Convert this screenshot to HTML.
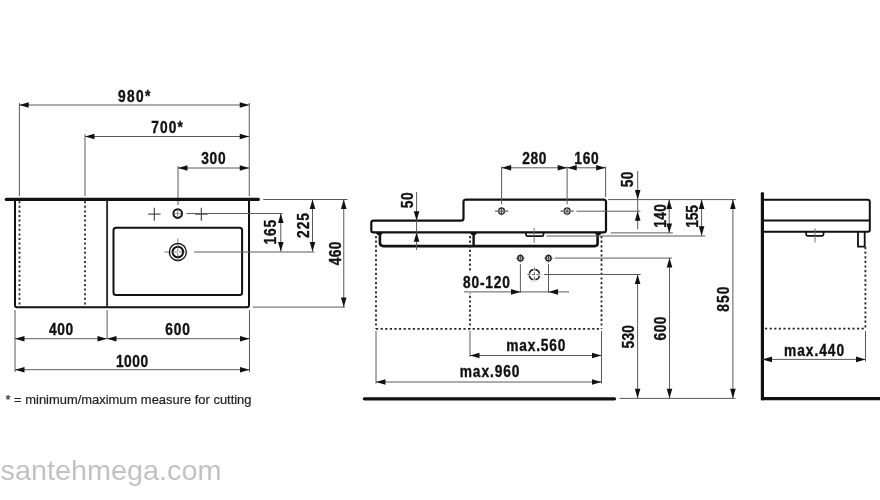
<!DOCTYPE html>
<html><head><meta charset="utf-8"><style>
html,body{margin:0;padding:0;background:#fff;}
svg{display:block;font-family:"Liberation Sans", sans-serif;will-change:transform;}
</style></head><body>
<svg width="880" height="500" viewBox="0 0 880 500">
<rect width="880" height="500" fill="#fff"/>
<line x1="19.4" y1="103" x2="19.4" y2="196" stroke="#5a5a5a" stroke-width="1" />
<line x1="85" y1="134" x2="85" y2="196" stroke="#5a5a5a" stroke-width="1" />
<line x1="178" y1="166" x2="178" y2="205" stroke="#5a5a5a" stroke-width="1" />
<line x1="249.25" y1="103" x2="249.25" y2="196" stroke="#5a5a5a" stroke-width="1" />
<line x1="19.25" y1="105" x2="249.25" y2="105" stroke="#5a5a5a" stroke-width="1" />
<polygon points="19.25,105.00 28.75,102.20 28.75,107.80" fill="#111"/>
<polygon points="249.25,105.00 239.75,102.20 239.75,107.80" fill="#111"/>
<line x1="85" y1="136.5" x2="249.25" y2="136.5" stroke="#5a5a5a" stroke-width="1" />
<polygon points="85.00,136.50 94.50,133.70 94.50,139.30" fill="#111"/>
<polygon points="249.25,136.50 239.75,133.70 239.75,139.30" fill="#111"/>
<line x1="178" y1="168" x2="249.25" y2="168" stroke="#5a5a5a" stroke-width="1" />
<polygon points="178.00,168.00 187.50,165.20 187.50,170.80" fill="#111"/>
<polygon points="249.25,168.00 239.75,165.20 239.75,170.80" fill="#111"/>
<text transform="translate(134.15,101.50) scale(0.86,1)" x="0" y="0" text-anchor="middle" font-size="16" font-weight="bold" fill="#111" stroke="#111" stroke-width="0.35" textLength="37.56" lengthAdjust="spacing">980*</text>
<text transform="translate(167.10,132.60) scale(0.86,1)" x="0" y="0" text-anchor="middle" font-size="16" font-weight="bold" fill="#111" stroke="#111" stroke-width="0.35" textLength="36.74" lengthAdjust="spacing">700*</text>
<text transform="translate(213.40,164.20) scale(0.86,1)" x="0" y="0" text-anchor="middle" font-size="16" font-weight="bold" fill="#111" stroke="#111" stroke-width="0.35" textLength="28.37" lengthAdjust="spacing">300</text>
<line x1="6.3" y1="199.4" x2="258.3" y2="199.4" stroke="#111" stroke-width="3.3" stroke-linecap="round"/>
<path d="M15,200 L15,305.3 Q15,307.3 17,307.3 L247,307.3 Q249,307.3 249,305.3 L249,200" stroke="#111" stroke-width="2" fill="none" />
<line x1="107.1" y1="200" x2="107.1" y2="307.3" stroke="#2a2a2a" stroke-width="1.9" />
<line x1="19.5" y1="201.2" x2="19.5" y2="305" stroke="#262626" stroke-width="1.8" stroke-dasharray="2 2.6"/>
<line x1="85" y1="201.2" x2="85" y2="305" stroke="#262626" stroke-width="1.8" stroke-dasharray="2 2.6"/>
<rect x="113.5" y="227.8" width="128.6" height="67.1" rx="2.5" stroke="#111" stroke-width="2" fill="none"/>
<circle cx="177.7" cy="213.6" r="4.3" stroke="#111" stroke-width="2" fill="none" />
<line x1="173.5" y1="213.6" x2="182" y2="213.6" stroke="#777" stroke-width="0.8" />
<line x1="177.7" y1="209.4" x2="177.7" y2="217.8" stroke="#777" stroke-width="0.8" />
<line x1="148.10000000000002" y1="214.1" x2="160.5" y2="214.1" stroke="#3a3a3a" stroke-width="1.1" />
<line x1="154.3" y1="207.8" x2="154.3" y2="220.7" stroke="#3a3a3a" stroke-width="1.1" />
<line x1="195.10000000000002" y1="214.1" x2="207.5" y2="214.1" stroke="#3a3a3a" stroke-width="1.1" />
<line x1="201.3" y1="207.8" x2="201.3" y2="220.7" stroke="#3a3a3a" stroke-width="1.1" />
<circle cx="177.85" cy="252" r="8.5" stroke="#111" stroke-width="1.3" fill="none" />
<circle cx="177.85" cy="252" r="5.3" stroke="#111" stroke-width="2" fill="none" />
<line x1="164.5" y1="252" x2="191.2" y2="252" stroke="#777" stroke-width="1" stroke-dasharray="4 1.5 3 1.5 3 1.5 3 1.5 4"/>
<line x1="177.85" y1="238.6" x2="177.85" y2="265.4" stroke="#777" stroke-width="1" stroke-dasharray="4 1.5 3 1.5 3 1.5 3 1.5 4"/>
<line x1="186.5" y1="213.5" x2="282.5" y2="213.5" stroke="#5a5a5a" stroke-width="1" />
<line x1="194" y1="252" x2="314.5" y2="252" stroke="#5a5a5a" stroke-width="1" />
<line x1="263.2" y1="199.5" x2="347.5" y2="199.5" stroke="#5a5a5a" stroke-width="1" />
<line x1="252.8" y1="307.1" x2="345" y2="307.1" stroke="#5a5a5a" stroke-width="1" />
<line x1="280.8" y1="213.5" x2="280.8" y2="251.5" stroke="#5a5a5a" stroke-width="1" />
<polygon points="280.80,213.50 278.00,223.00 283.60,223.00" fill="#111"/>
<polygon points="280.80,251.50 278.00,242.00 283.60,242.00" fill="#111"/>
<line x1="312.5" y1="199.5" x2="312.5" y2="251.5" stroke="#5a5a5a" stroke-width="1" />
<polygon points="312.50,199.50 309.70,209.00 315.30,209.00" fill="#111"/>
<polygon points="312.50,251.50 309.70,242.00 315.30,242.00" fill="#111"/>
<line x1="343.75" y1="199.6" x2="343.75" y2="307.1" stroke="#5a5a5a" stroke-width="1" />
<polygon points="343.75,199.60 340.95,209.10 346.55,209.10" fill="#111"/>
<polygon points="343.75,307.10 340.95,297.60 346.55,297.60" fill="#111"/>
<text transform="translate(275.60,232.20) rotate(-90) scale(0.86,1)" x="0" y="0" text-anchor="middle" font-size="16" font-weight="bold" fill="#111" stroke="#111" stroke-width="0.35" textLength="28.60" lengthAdjust="spacing">165</text>
<text transform="translate(308.70,225.50) rotate(-90) scale(0.86,1)" x="0" y="0" text-anchor="middle" font-size="16" font-weight="bold" fill="#111" stroke="#111" stroke-width="0.35" textLength="29.07" lengthAdjust="spacing">225</text>
<text transform="translate(340.60,253.40) rotate(-90) scale(0.86,1)" x="0" y="0" text-anchor="middle" font-size="16" font-weight="bold" fill="#111" stroke="#111" stroke-width="0.35" textLength="27.67" lengthAdjust="spacing">460</text>
<line x1="15" y1="310" x2="15" y2="372" stroke="#5a5a5a" stroke-width="1" />
<line x1="107.1" y1="310" x2="107.1" y2="339" stroke="#5a5a5a" stroke-width="1" />
<line x1="249.5" y1="310" x2="249.5" y2="372" stroke="#5a5a5a" stroke-width="1" />
<line x1="15" y1="338.7" x2="107" y2="338.7" stroke="#5a5a5a" stroke-width="1" />
<polygon points="15.00,338.70 24.50,335.90 24.50,341.50" fill="#111"/>
<polygon points="107.00,338.70 97.50,335.90 97.50,341.50" fill="#111"/>
<line x1="107" y1="338.7" x2="249.5" y2="338.7" stroke="#5a5a5a" stroke-width="1" />
<polygon points="107.00,338.70 116.50,335.90 116.50,341.50" fill="#111"/>
<polygon points="249.50,338.70 240.00,335.90 240.00,341.50" fill="#111"/>
<line x1="15" y1="369.7" x2="249.5" y2="369.7" stroke="#5a5a5a" stroke-width="1" />
<polygon points="15.00,369.70 24.50,366.90 24.50,372.50" fill="#111"/>
<polygon points="249.50,369.70 240.00,366.90 240.00,372.50" fill="#111"/>
<text transform="translate(61.10,334.70) scale(0.86,1)" x="0" y="0" text-anchor="middle" font-size="16" font-weight="bold" fill="#111" stroke="#111" stroke-width="0.35" textLength="28.14" lengthAdjust="spacing">400</text>
<text transform="translate(177.65,334.70) scale(0.86,1)" x="0" y="0" text-anchor="middle" font-size="16" font-weight="bold" fill="#111" stroke="#111" stroke-width="0.35" textLength="28.72" lengthAdjust="spacing">600</text>
<text transform="translate(132.00,366.50) scale(0.86,1)" x="0" y="0" text-anchor="middle" font-size="16" font-weight="bold" fill="#111" stroke="#111" stroke-width="0.35" textLength="37.44" lengthAdjust="spacing">1000</text>
<text x="5.5" y="403.8" font-size="13" fill="#222" stroke="#222" stroke-width="0.2" textLength="246" lengthAdjust="spacingAndGlyphs">* = minimum/maximum measure for cutting</text>
<path d="M461,220.7 L373.5,220.7 Q371.3,220.7 371.3,223 L371.3,230.2 Q371.3,232.4 373.5,232.4 L603.6,232.4 Q606,232.4 606,230 L606,202 Q606,199.6 603.6,199.6 L466,199.6 Q463.5,199.6 463.5,202 L463.5,218.2 Q463.5,220.7 461,220.7 Z" stroke="#111" stroke-width="2.2" fill="none" />
<path d="M379.9,234 L379.9,242.6 Q379.9,246.1 383.4,246.1 L594.8,246.1 Q597.6,246.1 597.6,243.6 L597.6,234" stroke="#111" stroke-width="2.6" fill="none" />
<line x1="473.6" y1="234" x2="473.6" y2="246" stroke="#111" stroke-width="2.4" />
<polygon points="375.7,232.4 382.90000000000003,232.4 381.3,235 377.3,235" fill="#111"/>
<polygon points="470.0,232.4 477.20000000000005,232.4 475.6,235 471.6,235" fill="#111"/>
<polygon points="594.6,232.4 601.8000000000001,232.4 600.2,235 596.2,235" fill="#111"/>
<path d="M526,232.8 L526,234.8 Q526,236.2 527.5,236.2 L542,236.2 Q543.5,236.2 543.5,234.8 L543.5,232.8" stroke="#111" stroke-width="1.7" fill="none" />
<line x1="534.2" y1="228" x2="534.2" y2="243" stroke="#666" stroke-width="0.9" />
<line x1="376" y1="236" x2="376" y2="328.8" stroke="#262626" stroke-width="1.8" stroke-dasharray="2.2 2.4"/>
<line x1="470" y1="236" x2="470" y2="328.8" stroke="#262626" stroke-width="1.8" stroke-dasharray="2.2 2.4"/>
<line x1="601.5" y1="236" x2="601.5" y2="328.8" stroke="#262626" stroke-width="1.8" stroke-dasharray="2.2 2.4"/>
<line x1="376" y1="328.8" x2="601.5" y2="328.8" stroke="#262626" stroke-width="1.8" stroke-dasharray="2.2 2.4"/>
<circle cx="501.6" cy="211.1" r="3.1" stroke="#222" stroke-width="1.4" fill="none" pathLength="32" stroke-dasharray="6 2" stroke-dashoffset="7"/>
<line x1="495.0" y1="211.1" x2="508.20000000000005" y2="211.1" stroke="#444" stroke-width="1.1" />
<line x1="501.6" y1="207" x2="501.6" y2="215.2" stroke="#444" stroke-width="1.1" />
<line x1="501.6" y1="166.5" x2="501.6" y2="204.4" stroke="#5a5a5a" stroke-width="1" />
<circle cx="567.1" cy="211.1" r="3.1" stroke="#222" stroke-width="1.4" fill="none" pathLength="32" stroke-dasharray="6 2" stroke-dashoffset="7"/>
<line x1="560.5" y1="211.1" x2="573.7" y2="211.1" stroke="#444" stroke-width="1.1" />
<line x1="567.1" y1="207" x2="567.1" y2="215.2" stroke="#444" stroke-width="1.1" />
<line x1="567.1" y1="166.5" x2="567.1" y2="204.4" stroke="#5a5a5a" stroke-width="1" />
<line x1="605.6" y1="166.5" x2="605.6" y2="197" stroke="#5a5a5a" stroke-width="1" />
<line x1="501.7" y1="167.8" x2="567.2" y2="167.8" stroke="#5a5a5a" stroke-width="1" />
<polygon points="501.70,167.80 511.20,165.00 511.20,170.60" fill="#111"/>
<polygon points="567.20,167.80 557.70,165.00 557.70,170.60" fill="#111"/>
<line x1="567.2" y1="167.8" x2="605.6" y2="167.8" stroke="#5a5a5a" stroke-width="1" />
<polygon points="567.20,167.80 576.70,165.00 576.70,170.60" fill="#111"/>
<polygon points="605.60,167.80 596.10,165.00 596.10,170.60" fill="#111"/>
<text transform="translate(534.25,164.00) scale(0.86,1)" x="0" y="0" text-anchor="middle" font-size="16" font-weight="bold" fill="#111" stroke="#111" stroke-width="0.35" textLength="28.02" lengthAdjust="spacing">280</text>
<text transform="translate(586.45,164.00) scale(0.86,1)" x="0" y="0" text-anchor="middle" font-size="16" font-weight="bold" fill="#111" stroke="#111" stroke-width="0.35" textLength="28.26" lengthAdjust="spacing">160</text>
<line x1="416.6" y1="192" x2="416.6" y2="250" stroke="#5a5a5a" stroke-width="1" />
<polygon points="416.60,220.70 413.80,211.20 419.40,211.20" fill="#111"/>
<polygon points="416.60,232.20 413.80,241.70 419.40,241.70" fill="#111"/>
<text transform="translate(412.50,200.30) rotate(-90) scale(0.86,1)" x="0" y="0" text-anchor="middle" font-size="16" font-weight="bold" fill="#111" stroke="#111" stroke-width="0.35" textLength="18.60" lengthAdjust="spacing">50</text>
<line x1="608" y1="199.6" x2="735.8" y2="199.6" stroke="#5a5a5a" stroke-width="1" />
<line x1="576.4" y1="211.2" x2="640.4" y2="211.2" stroke="#5a5a5a" stroke-width="1" />
<line x1="610.7" y1="232.9" x2="672.8" y2="232.9" stroke="#5a5a5a" stroke-width="1" />
<line x1="546.4" y1="236" x2="705.2" y2="236" stroke="#5a5a5a" stroke-width="1" />
<line x1="637.7" y1="171" x2="637.7" y2="229.3" stroke="#5a5a5a" stroke-width="1" />
<polygon points="637.70,199.60 634.90,190.10 640.50,190.10" fill="#111"/>
<polygon points="637.70,211.20 634.90,220.70 640.50,220.70" fill="#111"/>
<text transform="translate(633.30,179.35) rotate(-90) scale(0.86,1)" x="0" y="0" text-anchor="middle" font-size="16" font-weight="bold" fill="#111" stroke="#111" stroke-width="0.35" textLength="18.26" lengthAdjust="spacing">50</text>
<line x1="669.2" y1="199.6" x2="669.2" y2="232.9" stroke="#5a5a5a" stroke-width="1" />
<polygon points="669.20,199.60 666.40,209.10 672.00,209.10" fill="#111"/>
<polygon points="669.20,232.90 666.40,223.40 672.00,223.40" fill="#111"/>
<text transform="translate(665.90,215.95) rotate(-90) scale(0.86,1)" x="0" y="0" text-anchor="middle" font-size="16" font-weight="bold" fill="#111" stroke="#111" stroke-width="0.35" textLength="27.56" lengthAdjust="spacing">140</text>
<line x1="701.6" y1="199.6" x2="701.6" y2="235.8" stroke="#5a5a5a" stroke-width="1" />
<polygon points="701.60,199.60 698.80,209.10 704.40,209.10" fill="#111"/>
<polygon points="701.60,235.80 698.80,226.30 704.40,226.30" fill="#111"/>
<text transform="translate(698.00,216.45) rotate(-90) scale(0.86,1)" x="0" y="0" text-anchor="middle" font-size="16" font-weight="bold" fill="#111" stroke="#111" stroke-width="0.35" textLength="26.40" lengthAdjust="spacing">155</text>
<circle cx="520.4" cy="258.2" r="2.6" stroke="#222" stroke-width="1.5" fill="none" />
<line x1="516.1999999999999" y1="258.2" x2="524.6" y2="258.2" stroke="#444" stroke-width="0.9" />
<line x1="520.4" y1="254" x2="520.4" y2="262.4" stroke="#444" stroke-width="0.9" />
<line x1="520.4" y1="264" x2="520.4" y2="292.6" stroke="#5a5a5a" stroke-width="1" />
<circle cx="548.5" cy="258.2" r="2.6" stroke="#222" stroke-width="1.5" fill="none" />
<line x1="544.3" y1="258.2" x2="552.7" y2="258.2" stroke="#444" stroke-width="0.9" />
<line x1="548.5" y1="254" x2="548.5" y2="262.4" stroke="#444" stroke-width="0.9" />
<line x1="548.5" y1="264" x2="548.5" y2="292.6" stroke="#5a5a5a" stroke-width="1" />
<circle cx="534.4" cy="274.6" r="5.2" stroke="#222" stroke-width="1.5" fill="none" pathLength="32" stroke-dasharray="6 2" stroke-dashoffset="7"/>
<line x1="527.4" y1="274.6" x2="541.4" y2="274.6" stroke="#555" stroke-width="0.9" stroke-dasharray="3 1.5"/>
<line x1="534.4" y1="267.6" x2="534.4" y2="281.6" stroke="#555" stroke-width="0.9" stroke-dasharray="3 1.5"/>
<line x1="554.5" y1="258.1" x2="672" y2="258.1" stroke="#5a5a5a" stroke-width="1" />
<line x1="544" y1="274.5" x2="640.6" y2="274.5" stroke="#5a5a5a" stroke-width="1" />
<rect x="467.5" y="272.5" width="5" height="20.5" fill="#fff"/>
<line x1="464" y1="291.9" x2="569" y2="291.9" stroke="#5a5a5a" stroke-width="1" />
<polygon points="520.50,291.90 511.00,289.10 511.00,294.70" fill="#111"/>
<polygon points="548.50,291.90 558.00,289.10 558.00,294.70" fill="#111"/>
<text transform="translate(486.45,287.60) scale(0.86,1)" x="0" y="0" text-anchor="middle" font-size="16" font-weight="bold" fill="#111" stroke="#111" stroke-width="0.35" textLength="54.77" lengthAdjust="spacing">80-120</text>
<line x1="376" y1="331" x2="376" y2="383.5" stroke="#5a5a5a" stroke-width="1" />
<line x1="470" y1="331" x2="470" y2="357" stroke="#5a5a5a" stroke-width="1" />
<line x1="601.5" y1="331" x2="601.5" y2="383.5" stroke="#5a5a5a" stroke-width="1" />
<line x1="470" y1="355.5" x2="601.5" y2="355.5" stroke="#5a5a5a" stroke-width="1" />
<polygon points="470.00,355.50 479.50,352.70 479.50,358.30" fill="#111"/>
<polygon points="601.50,355.50 592.00,352.70 592.00,358.30" fill="#111"/>
<line x1="376" y1="382" x2="601.5" y2="382" stroke="#5a5a5a" stroke-width="1" />
<polygon points="376.00,382.00 385.50,379.20 385.50,384.80" fill="#111"/>
<polygon points="601.50,382.00 592.00,379.20 592.00,384.80" fill="#111"/>
<text transform="translate(535.80,350.70) scale(0.86,1)" x="0" y="0" text-anchor="middle" font-size="16" font-weight="bold" fill="#111" stroke="#111" stroke-width="0.35" textLength="68.60" lengthAdjust="spacing">max.560</text>
<text transform="translate(489.60,377.20) scale(0.86,1)" x="0" y="0" text-anchor="middle" font-size="16" font-weight="bold" fill="#111" stroke="#111" stroke-width="0.35" textLength="69.53" lengthAdjust="spacing">max.960</text>
<line x1="637.6" y1="274.5" x2="637.6" y2="398.2" stroke="#5a5a5a" stroke-width="1" />
<polygon points="637.60,274.50 634.80,284.00 640.40,284.00" fill="#111"/>
<polygon points="637.60,398.20 634.80,388.70 640.40,388.70" fill="#111"/>
<line x1="669.5" y1="258.1" x2="669.5" y2="398.2" stroke="#5a5a5a" stroke-width="1" />
<polygon points="669.50,258.10 666.70,267.60 672.30,267.60" fill="#111"/>
<polygon points="669.50,398.20 666.70,388.70 672.30,388.70" fill="#111"/>
<line x1="732.9" y1="199.6" x2="732.9" y2="398.2" stroke="#5a5a5a" stroke-width="1" />
<polygon points="732.90,199.60 730.10,209.10 735.70,209.10" fill="#111"/>
<polygon points="732.90,398.20 730.10,388.70 735.70,388.70" fill="#111"/>
<text transform="translate(633.50,336.80) rotate(-90) scale(0.86,1)" x="0" y="0" text-anchor="middle" font-size="16" font-weight="bold" fill="#111" stroke="#111" stroke-width="0.35" textLength="27.21" lengthAdjust="spacing">530</text>
<text transform="translate(666.20,328.55) rotate(-90) scale(0.86,1)" x="0" y="0" text-anchor="middle" font-size="16" font-weight="bold" fill="#111" stroke="#111" stroke-width="0.35" textLength="27.79" lengthAdjust="spacing">600</text>
<text transform="translate(729.10,299.20) rotate(-90) scale(0.86,1)" x="0" y="0" text-anchor="middle" font-size="16" font-weight="bold" fill="#111" stroke="#111" stroke-width="0.35" textLength="29.07" lengthAdjust="spacing">850</text>
<line x1="364.4" y1="398.8" x2="614.5" y2="398.8" stroke="#111" stroke-width="3.3" stroke-linecap="round"/>
<line x1="619.5" y1="398.4" x2="735.5" y2="398.4" stroke="#5a5a5a" stroke-width="1" />
<line x1="762.4" y1="193.6" x2="762.4" y2="400.2" stroke="#111" stroke-width="3.2" />
<circle cx="762.4" cy="193.6" r="1.6" fill="#111"/>
<line x1="761" y1="398.6" x2="880" y2="398.6" stroke="#111" stroke-width="3.3" />
<path d="M762.5,199.7 L867.5,199.7 Q869.8,199.7 869.8,202 L869.8,230 Q869.8,231.8 868,231.8 L762.5,231.8" stroke="#111" stroke-width="2" fill="none" />
<line x1="762.5" y1="220.6" x2="869.8" y2="220.6" stroke="#111" stroke-width="2" />
<path d="M806.2,232 L806.2,234.6 Q806.2,235.8 807.5,235.8 L822.2,235.8 Q823.5,235.8 823.5,234.6 L823.5,232" stroke="#111" stroke-width="1.7" fill="none" />
<line x1="815" y1="228.3" x2="815" y2="242.6" stroke="#666" stroke-width="0.9" />
<path d="M858,232 L858,246.7 L864.7,246.7 L864.7,232" stroke="#111" stroke-width="1.8" fill="none" />
<line x1="865.4" y1="247" x2="865.4" y2="328.6" stroke="#262626" stroke-width="1.8" stroke-dasharray="2.2 2.4"/>
<line x1="765" y1="328.6" x2="865.4" y2="328.6" stroke="#262626" stroke-width="1.8" stroke-dasharray="2.2 2.4"/>
<line x1="865.5" y1="331" x2="865.5" y2="361.6" stroke="#5a5a5a" stroke-width="1" />
<line x1="762.5" y1="359.4" x2="865.5" y2="359.4" stroke="#5a5a5a" stroke-width="1" />
<polygon points="762.50,359.40 772.00,356.60 772.00,362.20" fill="#111"/>
<polygon points="865.50,359.40 856.00,356.60 856.00,362.20" fill="#111"/>
<text transform="translate(814.05,355.50) scale(0.86,1)" x="0" y="0" text-anchor="middle" font-size="16" font-weight="bold" fill="#111" stroke="#111" stroke-width="0.35" textLength="69.88" lengthAdjust="spacing">max.440</text>
<text x="0.5" y="479.7" font-size="28" fill="#c2c2c2" textLength="221" lengthAdjust="spacingAndGlyphs">santehmega.com</text>
</svg></body></html>
